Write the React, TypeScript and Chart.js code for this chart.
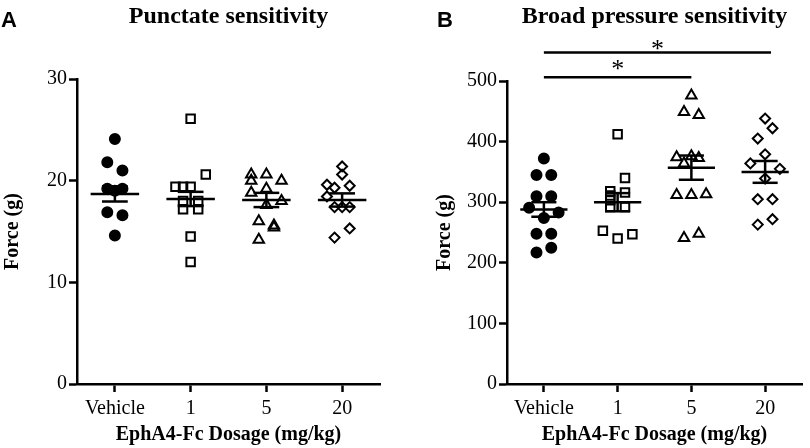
import React, { useEffect, useRef } from 'react';
import { Chart, registerables } from 'chart.js';
Chart.register(...registerables);

const FONT = '"Liberation Serif", "Times New Roman", serif';
const SANS = '"Liberation Sans", Arial, sans-serif';

const categories = ['Vehicle', '1', '5', '20'];

// Panel A – punctate sensitivity, force (g)
const punctVehicle = [24.1, 21.8, 21.0, 19.2, 19.0, 19.2, 16.9, 16.6, 14.6];
const punctVehicleSlot = [0, -1, 1, -1, 0, 1, -1, 1, 0];
const punct1 = [26.1, 20.6, 19.4, 19.4, 19.4, 18.0, 18.0, 17.2, 17.2, 14.5, 12.0];
const punct1Slot = [0, 2, -2, -1, 0, -1, 1, -1, 1, 0, 0];
const punct5 = [20.6, 20.6, 20.0, 20.0, 19.2, 18.8, 18.0, 17.6, 16.0, 15.6, 15.4, 14.2];
const punct5Slot = [-2, 0, -2, 2, 0, -2, 2, 0, -1, 1, 1, -1];
const punct20 = [21.4, 20.6, 19.6, 19.3, 19.5, 18.45, 17.4, 17.4, 17.4, 15.3, 14.4];
const punct20Slot = [0, 0, -2, -1, 1, -2, -1, 0, 1, 1, -1];
const punctMean = [18.7, 18.2, 18.1, 18.1];
const punctSem = [0.75, 0.7, 0.7, 0.65];
const punctTicks = [0, 10, 20, 30];

// Panel B – broad pressure sensitivity, force (g)
const broadVehicle = [372, 345, 345, 310, 310, 291, 283, 274, 248, 248, 217, 225];
const broadVehicleSlot = [0, -1, 1, -1, 1, -2, 2, 0, -1, 1, -1, 1];
const broad1 = [412, 340, 318, 316, 311, 303, 292, 292, 253, 240, 247];
const broad1Slot = [0, 1, -1, 1, -1, -1, -1, 1, -2, 0, 2];
const broad5 = [476, 449, 444, 374, 376, 373, 364, 312, 312, 313, 241, 248];
const broad5Slot = [0, -1, 1, -2, 0, 1, -1, -2, 0, 2, -1, 1];
const broad20 = [438, 422, 405, 379, 364, 355, 339, 305, 305, 263, 272];
const broad20Slot = [0, 1, -1, 0, -2, 2, 0, -1, 1, -1, 1];
const broadMean = [288, 300, 357, 350];
const broadSem = [12, 15, 20, 18];
const broadTicks = [0, 100, 200, 300, 400, 500];

// significance bars (panel B)
const sigFrom = [0, 0];
const sigTo = [2, 3.08];
const sigLevel = [506, 547];
const sigStarLevel = [526, 560];
const sigLabel = ['*', '*'];

const SLOT = 0.1;
const markerStyles = ['circle', 'rect', 'triangle', 'rectRot'];
const markerRadius = [5, 6, 6, 5];
const markerFill = ['#000', 'rgba(0,0,0,0)', 'rgba(0,0,0,0)', 'rgba(0,0,0,0)'];

type Spec = {
  groups: number[][];
  slots: number[][];
  means: number[];
  sems: number[];
  ticks: number[];
  title: string;
  letter: string;
  letterX: number;
  yAxisWidth: number;
  padRight: number;
  padTop: number;
  sig?: boolean;
};

function makeOverlay(spec: Spec) {
  return {
    id: 'overlay' + spec.letter,
    afterDatasetsDraw(chart: any) {
      const { ctx, scales, chartArea } = chart;
      const x = scales.x;
      const y = scales.y;
      const line = (x1: number, y1: number, x2: number, y2: number) => {
        ctx.beginPath();
        ctx.moveTo(x1, y1);
        ctx.lineTo(x2, y2);
        ctx.stroke();
      };
      ctx.save();
      ctx.strokeStyle = '#000';
      ctx.lineWidth = 2.5;
      ctx.lineCap = 'butt';
      spec.means.forEach((m, i) => {
        const ym = y.getPixelForValue(m);
        const yt = y.getPixelForValue(m + spec.sems[i]);
        const yb = y.getPixelForValue(m - spec.sems[i]);
        const xc = x.getPixelForValue(i);
        line(x.getPixelForValue(i - 0.32), ym, x.getPixelForValue(i + 0.32), ym);
        line(xc, yt, xc, yb);
        line(x.getPixelForValue(i - 0.17), yt, x.getPixelForValue(i + 0.17), yt);
        line(x.getPixelForValue(i - 0.17), yb, x.getPixelForValue(i + 0.17), yb);
      });
      if (spec.sig) {
        ctx.fillStyle = '#000';
        ctx.font = `26px ${FONT}`;
        ctx.textAlign = 'center';
        ctx.textBaseline = 'alphabetic';
        sigFrom.forEach((f, i) => {
          const yl = y.getPixelForValue(sigLevel[i]);
          const x1 = x.getPixelForValue(f);
          const x2 = x.getPixelForValue(sigTo[i]);
          line(x1, yl, x2, yl);
          const ys = y.getPixelForValue(sigStarLevel[i]);
          ctx.fillText(sigLabel[i], (x1 + x2) / 2, ys + 12);
        });
      }
      // title
      ctx.fillStyle = '#000';
      ctx.font = `bold 24px ${FONT}`;
      ctx.textAlign = 'center';
      ctx.textBaseline = 'alphabetic';
      ctx.fillText(spec.title, (chartArea.left + chartArea.right) / 2, 23);
      // panel letter
      ctx.font = `bold 22px ${SANS}`;
      ctx.textAlign = 'left';
      ctx.fillText(spec.letter, spec.letterX, 27);
      ctx.restore();
    },
  };
}

function buildChart(canvas: HTMLCanvasElement, spec: Spec) {
  const datasets = spec.groups.map((vals, gi) => ({
    data: vals.map((v, k) => ({ x: gi + spec.slots[gi][k] * SLOT, y: v })),
    pointStyle: markerStyles[gi],
    pointRadius: markerRadius[gi],
    backgroundColor: markerFill[gi],
    borderColor: '#000',
    borderWidth: 2,
  }));
  const axisGrid = {
    display: true,
    drawOnChartArea: false,
    drawTicks: true,
    tickLength: 8,
    tickWidth: 2.5,
    tickColor: '#000',
  };
  const axisBorder = { display: true, color: '#000', width: 2.5 };
  const tickFont = { family: FONT, size: 20 };
  const titleFont = { family: FONT, size: 20, weight: 'bold' as const };
  const yMax = spec.ticks[spec.ticks.length - 1];
  return new Chart(canvas, {
    type: 'scatter',
    data: { datasets: datasets as any },
    options: {
      responsive: false,
      animation: false,
      devicePixelRatio: 1,
      layout: { padding: { left: 0, right: spec.padRight, top: spec.padTop, bottom: 0 } },
      plugins: {
        legend: { display: false },
        tooltip: { enabled: false },
        title: { display: false },
      },
      scales: {
        x: {
          type: 'linear',
          min: -0.5,
          max: 3.5,
          afterBuildTicks: (s: any) => {
            s.ticks = categories.map((_, i) => ({ value: i }));
          },
          afterFit: (s: any) => {
            s.height = 64;
          },
          ticks: {
            callback: (v: any) => categories[Math.round(Number(v))] ?? '',
            font: tickFont,
            color: '#000',
            padding: 5,
            maxRotation: 0,
            autoSkip: false,
          },
          grid: axisGrid,
          border: axisBorder,
          title: {
            display: true,
            text: 'EphA4-Fc Dosage (mg/kg)',
            font: titleFont,
            color: '#000',
            padding: { top: 0, bottom: 1 },
          },
        },
        y: {
          type: 'linear',
          min: 0,
          max: yMax,
          afterBuildTicks: (s: any) => {
            s.ticks = spec.ticks.map((v) => ({ value: v }));
          },
          afterFit: (s: any) => {
            s.width = spec.yAxisWidth;
          },
          ticks: { font: tickFont, color: '#000', padding: 2 },
          grid: axisGrid,
          border: axisBorder,
          title: {
            display: true,
            text: 'Force (g)',
            font: titleFont,
            color: '#000',
            padding: { top: 1, bottom: 0 },
          },
        },
      },
    } as any,
    plugins: [makeOverlay(spec)],
  });
}

const specA: Spec = {
  groups: [punctVehicle, punct1, punct5, punct20],
  slots: [punctVehicleSlot, punct1Slot, punct5Slot, punct20Slot],
  means: punctMean,
  sems: punctSem,
  ticks: punctTicks,
  title: 'Punctate sensitivity',
  letter: 'A',
  letterX: 1,
  yAxisWidth: 77,
  padRight: 52,
  padTop: 79,
};

const specB: Spec = {
  groups: [broadVehicle, broad1, broad5, broad20],
  slots: [broadVehicleSlot, broad1Slot, broad5Slot, broad20Slot],
  means: broadMean,
  sems: broadSem,
  ticks: broadTicks,
  title: 'Broad pressure sensitivity',
  letter: 'B',
  letterX: 5,
  yAxisWidth: 75,
  padRight: 1,
  padTop: 81,
  sig: true,
};

export default function App() {
  const refA = useRef<HTMLCanvasElement>(null);
  const refB = useRef<HTMLCanvasElement>(null);
  useEffect(() => {
    const a = buildChart(refA.current!, specA);
    const b = buildChart(refB.current!, specB);
    return () => {
      a.destroy();
      b.destroy();
    };
  }, []);
  return (
    <div style={{ position: 'absolute', left: 0, top: 0, width: 810, height: 448, background: '#fff' }}>
      <canvas
        ref={refA}
        width={432}
        height={448}
        style={{ position: 'absolute', left: 0, top: 0, width: 432, height: 448 }}
      />
      <canvas
        ref={refB}
        width={378}
        height={448}
        style={{ position: 'absolute', left: 432, top: 0, width: 378, height: 448 }}
      />
    </div>
  );
}
